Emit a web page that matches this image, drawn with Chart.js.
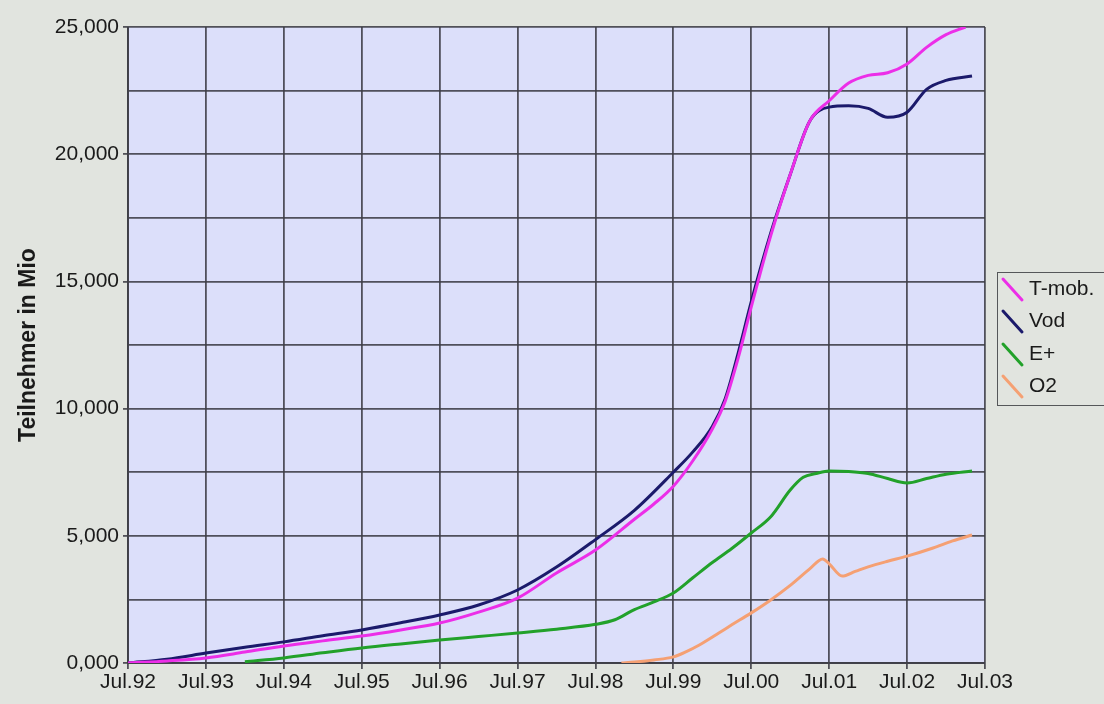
<!DOCTYPE html>
<html>
<head>
<meta charset="utf-8">
<script src="https://cdn.jsdelivr.net/npm/chart.js@4/dist/chart.umd.min.js"></script>
<style>
  html, body { margin: 0; padding: 0; background: #e1e4df; }
  canvas { display: block; }
</style>
</head>
<body>
<canvas id="c" width="1104" height="704"></canvas>
<script>
// X values are months since Jul.92
const xTickLabels = ["Jul.92","Jul.93","Jul.94","Jul.95","Jul.96","Jul.97","Jul.98","Jul.99","Jul.00","Jul.01","Jul.02","Jul.03"];
const yTickLabels = ["0,000","5,000","10,000","15,000","20,000","25,000"];
const seriesNames = ["T-mob.","Vod","E+","O2"];

const tmobMonths = [0,6,12,18,24,30,36,42,48,54,60,66,72,78,81,84,87,90,92,94,96,99,102,105,108,111,114,117,120,123,126,129];
const tmobValues = [0,80,200,430,670,870,1060,1300,1570,2000,2550,3540,4440,5650,6250,6950,7950,9200,10300,12000,14000,16800,19200,21300,22100,22800,23100,23200,23550,24200,24700,25000];

const vodMonths = [0,6,12,18,24,30,36,42,48,54,60,66,72,78,84,87,90,92,94,96,99,102,105,108,111,114,117,120,123,126,130];
const vodValues = [0,150,390,620,830,1070,1300,1580,1890,2280,2870,3770,4850,6000,7500,8300,9300,10400,12200,14200,16900,19200,21300,21850,21900,21800,21450,21650,22550,22900,23070];

const eplusMonths = [18,24,30,36,42,48,54,60,66,72,75,78,81,84,87,90,93,96,99,102,104,106,108,111,114,117,120,123,126,130];
const eplusValues = [50,200,400,590,750,900,1040,1180,1330,1520,1700,2100,2400,2750,3350,3950,4500,5110,5750,6800,7300,7450,7550,7530,7450,7250,7080,7250,7420,7550];

const o2Months = [76,78,81,84,86,88,91,93,96,99,102,105,107,108,110,112,114,117,120,124,127,130];
const o2Values = [0,40,120,240,450,710,1180,1500,1970,2480,3050,3700,4090,3900,3420,3600,3780,4000,4200,4520,4800,5030];

const colors = ["#ec2ee8","#1b1a6b","#22a12a","#f5a073"];

function pts(m, v) { return m.map((x, i) => ({ x: x, y: v[i] })); }

const datasets = [
  [tmobMonths, tmobValues],
  [vodMonths, vodValues],
  [eplusMonths, eplusValues],
  [o2Months, o2Values]
].map((d, i) => ({
  label: seriesNames[i],
  data: pts(d[0], d[1]),
  borderColor: colors[i],
  backgroundColor: colors[i],
  borderWidth: 3,
  pointRadius: 0,
  fill: false,
  cubicInterpolationMode: 'monotone'
}));

const gridColor = 'rgba(60,60,70,0.88)';
const fontFamily = '"Liberation Sans", Arial, sans-serif';

const bgPlugin = {
  id: 'plotBg',
  beforeDraw(chart) {
    const { ctx, chartArea: a } = chart;
    ctx.save();
    ctx.fillStyle = '#dcdffa';
    ctx.fillRect(a.left, a.top, a.right - a.left, a.bottom - a.top);
    ctx.restore();
  }
};

const legendPlugin = {
  id: 'customLegend',
  afterDraw(chart) {
    const { ctx } = chart;
    ctx.save();
    ctx.fillStyle = '#e1e4df';
    ctx.fillRect(997, 272, 120, 133);
    ctx.strokeStyle = '#55575a';
    ctx.lineWidth = 1;
    ctx.strokeRect(997.5, 272.5, 120, 133);
    const rows = [289, 321, 354, 386];
    ctx.font = '21px ' + fontFamily;
    ctx.textBaseline = 'middle';
    ctx.textAlign = 'left';
    chart.data.datasets.forEach((ds, i) => {
      const cy = rows[i];
      ctx.strokeStyle = ds.borderColor;
      ctx.lineWidth = 3;
      ctx.lineCap = 'round';
      ctx.beginPath();
      ctx.moveTo(1003, cy - 10);
      ctx.lineTo(1022, cy + 11);
      ctx.stroke();
      ctx.fillStyle = '#1a1a1a';
      ctx.fillText(ds.label, 1029, cy);
    });
    ctx.restore();
  }
};

new Chart(document.getElementById('c'), {
  type: 'line',
  data: { datasets: datasets },
  options: {
    responsive: false,
    animation: false,
    devicePixelRatio: 1,
    layout: { padding: { top: 27, right: 119, bottom: 0, left: 0 } },
    plugins: { legend: { display: false }, tooltip: { enabled: false } },
    scales: {
      x: {
        type: 'linear',
        min: 0,
        max: 132,
        afterFit(s) { s.height = 41; },
        ticks: {
          stepSize: 12,
          autoSkip: false,
          maxRotation: 0,
          padding: 1,
          color: '#1a1a1a',
          font: { family: fontFamily, size: 21 },
          callback: (v) => xTickLabels[Math.round(v / 12)]
        },
        grid: { color: gridColor, lineWidth: 1.8, tickLength: 6, tickColor: gridColor, tickWidth: 1.8 },
        border: { color: gridColor, width: 2 }
      },
      y: {
        type: 'linear',
        min: 0,
        max: 25000,
        afterFit(s) { s.width = 128; },
        title: {
          display: true,
          text: 'Teilnehmer in Mio',
          color: '#1a1a1a',
          font: { family: fontFamily, size: 23, weight: 'bold' },
          padding: { top: 15, bottom: 0 }
        },
        ticks: {
          stepSize: 2500,
          autoSkip: false,
          padding: 4,
          color: '#1a1a1a',
          font: { family: fontFamily, size: 21 },
          callback: (v) => (v % 5000 === 0 ? yTickLabels[v / 5000] : '')
        },
        grid: {
          color: gridColor,
          lineWidth: 1.8,
          tickLength: 5,
          tickWidth: 1.8,
          tickColor: (c) => (c.tick && c.tick.value % 5000 === 0 ? gridColor : 'rgba(0,0,0,0)')
        },
        border: { color: gridColor, width: 2 }
      }
    }
  },
  plugins: [bgPlugin, legendPlugin]
});
</script>
</body>
</html>
